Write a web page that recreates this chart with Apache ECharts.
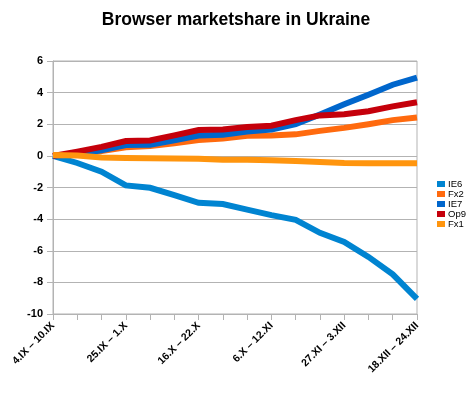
<!DOCTYPE html>
<html><head><meta charset="utf-8">
<script src="https://cdn.jsdelivr.net/npm/echarts@6/dist/echarts.min.js"></script>
<style>html,body{margin:0;padding:0;background:#fff}#c{width:472px;height:397px}</style>
</head><body><div id="c"></div>
<script>
const categories = ["4.IX – 10.IX","11.IX – 17.IX","18.IX – 24.IX","25.IX – 1.X","2.X – 8.X","9.X – 15.X","16.X – 22.X","23.X – 29.X","30.X – 5.XI","6.X – 12.XI","13.XI – 19.XI","20.XI – 26.XI","27.XI – 3.XII","4.XII – 10.XII","11.XII – 17.XII","18.XII – 24.XII"];
const ie6 = [0, -0.45, -1.0, -1.87, -2.02, -2.48, -2.97, -3.05, -3.4, -3.75, -4.05, -4.87, -5.44, -6.39, -7.49, -9.05];
const fx2 = [0, 0.1, 0.3, 0.55, 0.63, 0.8, 1.0, 1.1, 1.27, 1.29, 1.36, 1.58, 1.77, 2.0, 2.26, 2.43];
const ie7 = [0, 0.12, 0.35, 0.68, 0.7, 0.98, 1.29, 1.33, 1.54, 1.67, 2.01, 2.62, 3.26, 3.87, 4.5, 4.95];
const op9 = [0, 0.27, 0.57, 0.94, 0.97, 1.3, 1.63, 1.67, 1.83, 1.91, 2.26, 2.56, 2.63, 2.82, 3.13, 3.39];
const fx1 = [0.05, 0.02, -0.1, -0.13, -0.15, -0.16, -0.18, -0.25, -0.25, -0.27, -0.33, -0.38, -0.45, -0.46, -0.46, -0.46];
const seriesNames = ["IE6","Fx2","IE7","Op9","Fx1"];
const seriesData = [ie6, fx2, ie7, op9, fx1];
const colors = ["#0084d1","#ff6a0e","#0066cc","#c5000b","#ff950e"];
const yTicks = {min: -10, max: 6, interval: 2};

const chart = echarts.init(document.getElementById('c'));
chart.setOption({
  animation: false,
  backgroundColor: '#fff',
  title: {text: 'Browser marketshare in Ukraine', left: 'center', top: 6,
    textStyle: {fontFamily: 'Liberation Sans', fontSize: 17.5, fontWeight: 'bold', color: '#000'}},
  legend: {orient: 'vertical', left: 432, top: 174, itemWidth: 8, itemHeight: 6, itemGap: 0,
    icon: 'rect', textStyle: {fontFamily: 'Liberation Sans', fontSize: 9.5, color: '#000', lineHeight: 10, padding: [0,0,0,-2]},
    data: seriesNames},
  grid: {left: 53, right: 55, top: 61, bottom: 83, show: true, borderColor: '#b3b3b3', borderWidth: 1},
  xAxis: {type: 'category', data: categories, boundaryGap: false,
    axisLine: {onZero: false, lineStyle: {color: '#b3b3b3'}},
    axisTick: {show: true, interval: 0, length: 6, inside: false, lineStyle: {color: '#b3b3b3'}},
    axisLabel: {interval: 2, rotate: 45, margin: 10, fontFamily: 'Liberation Sans', fontSize: 10.5, fontWeight: 'bold', color: '#000'},
    splitLine: {show: false}},
  yAxis: {type: 'value', min: yTicks.min, max: yTicks.max, interval: yTicks.interval,
    axisLine: {show: true, lineStyle: {color: '#b3b3b3'}},
    axisTick: {show: true, length: 6, lineStyle: {color: '#b3b3b3'}},
    axisLabel: {margin: 10, fontFamily: 'Liberation Sans', fontSize: 11, fontWeight: 'bold', color: '#000'},
    splitLine: {show: true, lineStyle: {color: '#b3b3b3'}}},
  series: seriesNames.map((n, i) => ({
    name: n, type: 'line', data: seriesData[i], showSymbol: false, symbol: 'none',
    color: colors[i], lineStyle: {width: 6, color: colors[i], cap: 'butt', join: 'miter'}, z: 2 + i
  }))
});
</script></body></html>
